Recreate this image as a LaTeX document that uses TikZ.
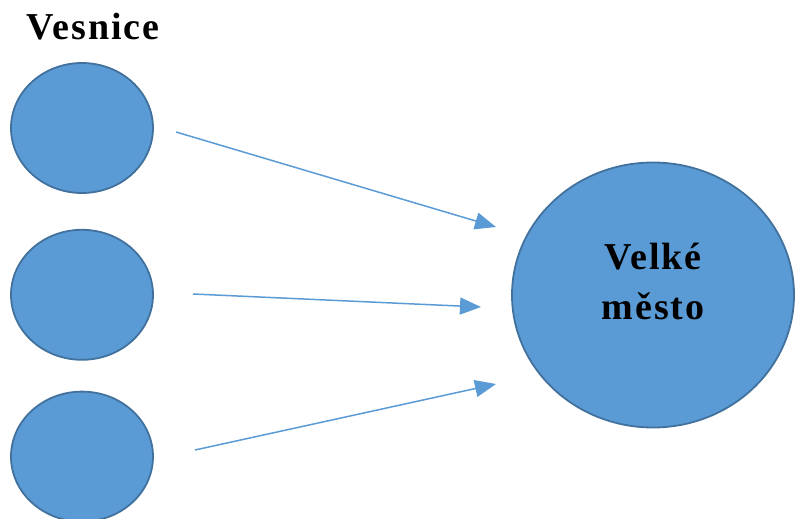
\documentclass[tikz,border=0pt]{standalone}
\usepackage{fontspec}
\setmainfont{Liberation Serif}[LetterSpace=5]
\usetikzlibrary{arrows.meta, shapes.geometric, positioning}
\definecolor{fillblue}{HTML}{5B9BD5}
\definecolor{edgeblue}{HTML}{41719C}

\begin{document}
\begin{tikzpicture}[
  x=1pt, y=-1pt,
  village/.style={ellipse, draw=edgeblue, line width=1.8pt, fill=fillblue,
              minimum width=142pt, minimum height=130pt, inner sep=0pt},
  city/.style={ellipse, draw=edgeblue, line width=1.8pt, fill=fillblue,
              minimum width=282pt, minimum height=265pt, inner sep=0pt,
              font=\fontsize{38}{50}\selectfont\bfseries, align=center,
              text depth=28pt},
  arrow/.style={-{Triangle[length=21pt, width=17pt]}, draw=fillblue,
              line width=1.5pt},
]
  \useasboundingbox (0,0) rectangle (795,519);

  \node[font=\fontsize{38}{46}\selectfont\bfseries, anchor=base] (title) at (93,40) {Vesnice};
  \node[village] (v1) at (82,128) {};
  \node[village, below=35pt of v1] (v2) {};
  \node[village, below=30pt of v2] (v3) {};
  \node[city] (town) at (653,295) {Velké\\město};

  \coordinate (s1) at (176,132);
  \coordinate (s2) at (193,294);
  \coordinate (s3) at (195,450);
  \coordinate (t1) at (496,227);
  \coordinate (t2) at (481,307);
  \coordinate (t3) at (496,384);

  \draw[arrow] (s1) -- (t1);
  \draw[arrow] (s2) -- (t2);
  \draw[arrow] (s3) -- (t3);
\end{tikzpicture}
\end{document}
